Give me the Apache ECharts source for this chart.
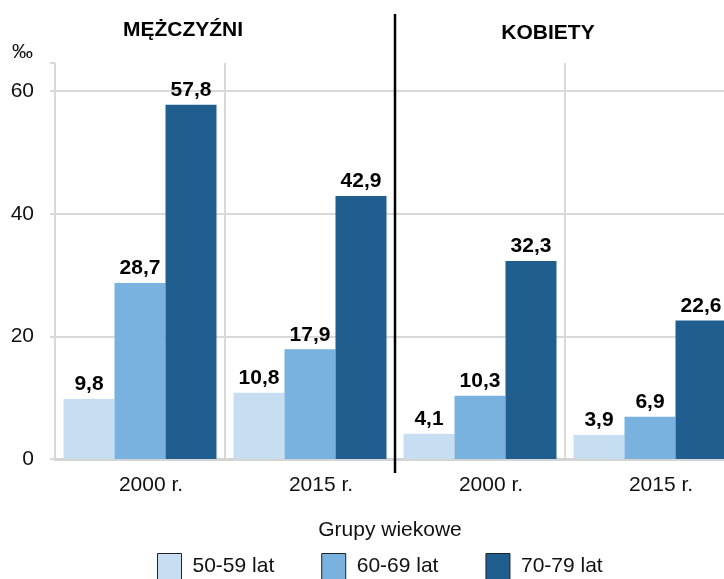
<!DOCTYPE html>
<html>
<head>
<meta charset="utf-8">
<script src="https://cdn.jsdelivr.net/npm/echarts@6/dist/echarts.min.js"></script>
<style>
  html, body { margin: 0; padding: 0; background: #fff; }
  #chart { width: 724px; height: 579px; }
</style>
</head>
<body>
<div id="chart"></div>
<script>
const categories = ["2000 r.", "2015 r.", "2000 r.", "2015 r."];
const seriesNames = ["50-59 lat", "60-69 lat", "70-79 lat"];
const age5059 = [9.8, 10.8, 4.1, 3.9];
const age6069 = [28.7, 17.9, 10.3, 6.9];
const age7079 = [57.8, 42.9, 32.3, 22.6];
const yTicks = [0, 20, 40, 60];
const colors = ["#c7ddf1", "#79b1df", "#215e90"];

let chartDom = document.getElementById("chart");
let myChart = echarts.init(chartDom);
const font = "Liberation Sans, Arial, sans-serif";

function makeSeries(name, data, color) {
  return {
    name: name,
    type: "bar",
    data: data,
    barGap: "0%",
    barCategoryGap: "10%",
    itemStyle: { color: color },
    label: {
      show: true,
      position: "top",
      distance: 4,
      color: "#000",
      fontFamily: font,
      fontWeight: "bold",
      fontSize: 21,
      formatter: (p) => String(p.value).replace(".", ","),
    },
  };
}

let option = {
  animation: false,
  textStyle: { fontFamily: font },
  title: [
    { text: "MĘŻCZYŹNI", left: 178, top: 15, textAlign: "center",
      textStyle: { fontSize: 21, fontWeight: "bold", color: "#000", fontFamily: font } },
    { text: "KOBIETY", left: 543, top: 18, textAlign: "center",
      textStyle: { fontSize: 21, fontWeight: "bold", color: "#000", fontFamily: font } },
    { text: "Grupy wiekowe", left: 385, top: 515, textAlign: "center",
      textStyle: { fontSize: 21, fontWeight: "normal", color: "#111", fontFamily: font } },
  ],
  legend: {
    data: seriesNames,
    left: 157,
    top: 553,
    padding: 0,
    icon: "rect",
    itemWidth: 24,
    itemHeight: 26,
    itemGap: 47,
    itemStyle: { borderColor: "#222", borderWidth: 1 },
    textStyle: { fontSize: 21, color: "#111", fontFamily: font, padding: [5, 0, 0, 6] },
  },
  grid: { left: 55, width: 680, top: 63, bottom: 120, outerBoundsMode: "none" },
  xAxis: {
    type: "category",
    data: categories,
    axisLine: { lineStyle: { color: "#d4d4d4", width: 3 } },
    axisTick: { length: 13, lineStyle: { color: "#d4d4d4", width: 2 } },
    axisLabel: { fontSize: 21, color: "#111", margin: 16, fontFamily: font, padding: [0, 0, 0, 22] },
    splitLine: {
      show: true,
      lineStyle: { color: ["#d9d9d9", "#d9d9d9", "rgba(0,0,0,0)", "#d9d9d9", "#d9d9d9"], width: 2 },
    },
  },
  yAxis: {
    type: "value",
    min: 0,
    max: 64.6,
    interval: 20,
    name: "‰",
    nameLocation: "end",
    nameGap: 0,
    nameTextStyle: { fontSize: 21, color: "#111", align: "right", padding: [0, 22, 0, 0], fontFamily: font },
    axisLine: { show: false },
    axisTick: { show: true, length: 5, lineStyle: { color: "#d9d9d9", width: 2 } },
    axisLabel: {
      fontSize: 21, color: "#111", margin: 21, fontFamily: font,
      formatter: (v) => (yTicks.indexOf(v) >= 0 ? String(v) : ""),
    },
    splitLine: {
      lineStyle: { color: ["#d9d9d9", "#d9d9d9", "#d9d9d9", "#d9d9d9", "rgba(0,0,0,0)"], width: 2 },
    },
  },
  series: [
    makeSeries(seriesNames[0], age5059, colors[0]),
    makeSeries(seriesNames[1], age6069, colors[1]),
    makeSeries(seriesNames[2], age7079, colors[2]),
  ],
};
myChart.setOption(option);

// black divider between the men and women groups, at the category boundary
let c1 = myChart.convertToPixel({ xAxisIndex: 0 }, 1);
let c2 = myChart.convertToPixel({ xAxisIndex: 0 }, 2);
let divX = Math.round((c1 + c2) / 2);
myChart.setOption({
  graphic: [
    { type: "line", shape: { x1: divX, y1: 14, x2: divX, y2: 473 },
      style: { stroke: "#000", lineWidth: 2.5 }, z: 100 },
  ],
});
</script>
</body>
</html>
